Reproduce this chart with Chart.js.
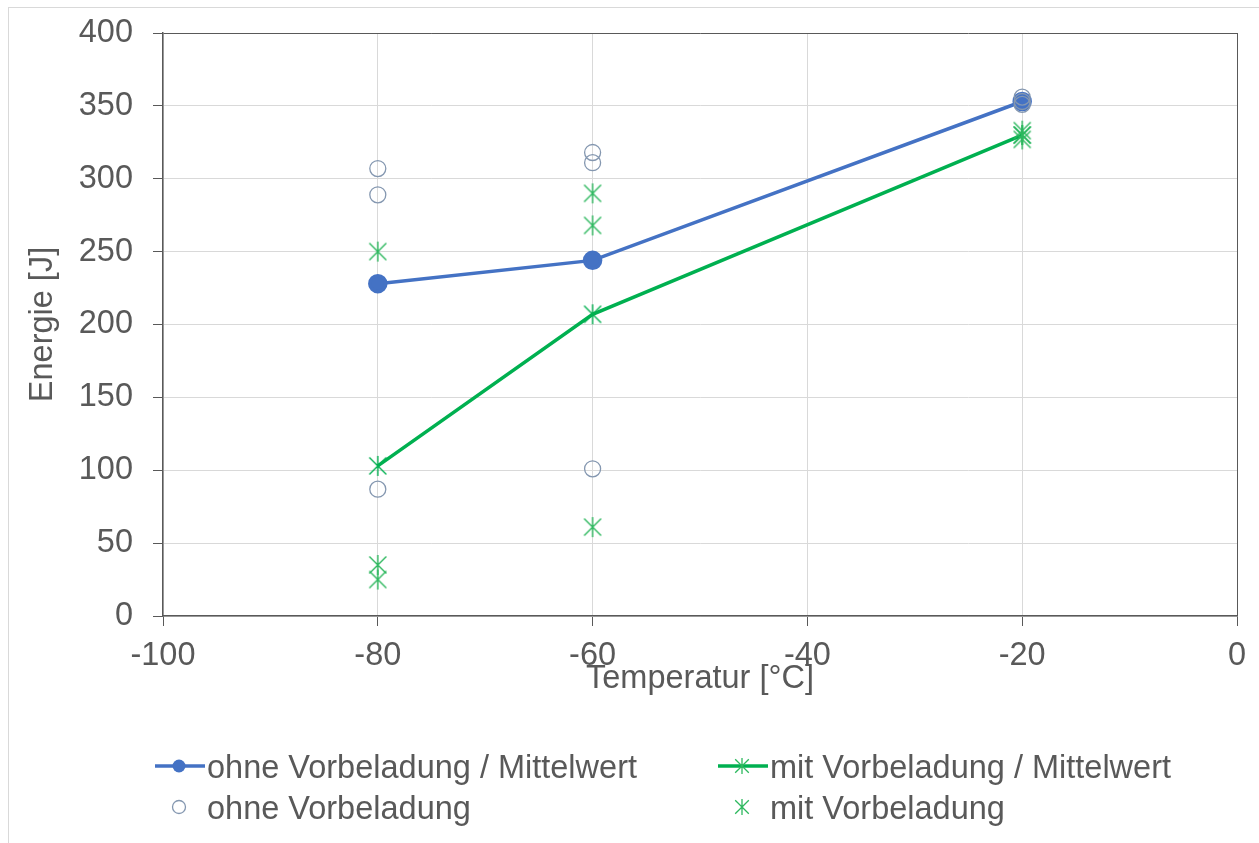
<!DOCTYPE html>
<html>
<head>
<meta charset="utf-8">
<script src="https://cdn.jsdelivr.net/npm/chart.js@4.4.0/dist/chart.umd.min.js"></script>
<style>
  body { margin: 0; background: #fff; overflow: hidden; }
  #wrap { position: relative; width: 1259px; height: 843px; overflow: hidden; }
  #frame { position: absolute; left: 8px; top: 7px; width: 1300px; height: 900px; border: 1px solid #d9d9d9; }
  canvas { position: absolute; left: 0; top: 0; }
</style>
</head>
<body>
<div id="wrap">
  <div id="frame"></div>
  <canvas id="myChart" width="1259" height="843"></canvas>
</div>
<script>
// mean values per temperature
const temperatures = [-80, -60, -20];
const meanOhne = [228, 244, 353];
const meanMit = [103, 207, 330];

// single measurements
const ohneTemps = [-80, -80, -80, -60, -60, -60, -20, -20, -20];
const ohneValues = [307, 289, 87, 318, 311, 101, 356, 353, 351];
const mitTemps = [-80, -80, -80, -60, -60, -60, -20, -20, -20];
const mitValues = [250, 35, 25, 290, 268, 61, 333, 330, 327];

// axis ticks
const xTicks = [-100, -80, -60, -40, -20, 0];
const yTicks = [0, 50, 100, 150, 200, 250, 300, 350, 400];

const seriesLabels = [
    'ohne Vorbeladung / Mittelwert',
    'mit Vorbeladung / Mittelwert',
    'ohne Vorbeladung',
    'mit Vorbeladung'
];

const BLUE = '#4472C4';
const GREEN = '#00B050';
const CIRCLE = '#8497B0';
const STAR = '#2DB85E';
const TEXT = '#595959';
const FONT = '"Liberation Sans", Arial, sans-serif';
const FONT_SIZE = 32.5;

// Excel-like star marker: X plus vertical bar
function makeStar(size, color, lw) {
    const c = document.createElement('canvas');
    c.width = size;
    c.height = size;
    const g = c.getContext('2d');
    g.strokeStyle = color;
    g.lineWidth = lw;
    const m = size / 2, r = size / 2 - 1, d = r * 0.85;
    g.beginPath();
    g.moveTo(m, m - r); g.lineTo(m, m + r);
    g.moveTo(m - d, m - d); g.lineTo(m + d, m + d);
    g.moveTo(m - d, m + d); g.lineTo(m + d, m - d);
    g.stroke();
    return c;
}

const starBig = makeStar(22, STAR, 1.4);
const starMean = makeStar(22, GREEN, 1.4);
const starSmall = makeStar(18, STAR, 1.3);

const toPoints = (xs, ys) => xs.map((x, i) => ({ x: x, y: ys[i] }));

// legend drawn below the plot in two columns
const bottomLegend = {
    id: 'bottomLegend',
    afterDraw(chart) {
        const ctx = chart.ctx;
        const items = [
            { x: 155, y: 778, line: BLUE, marker: 'dot' },
            { x: 718, y: 778, line: GREEN, marker: 'star' },
            { x: 155, y: 819, line: null, marker: 'ring' },
            { x: 718, y: 819, line: null, marker: 'star' }
        ];
        ctx.save();
        items.forEach((it, i) => {
            const cy = it.y - 12;
            const cx = it.x + 24;
            if (it.line) {
                ctx.strokeStyle = it.line;
                ctx.lineWidth = 3.5;
                ctx.beginPath();
                ctx.moveTo(it.x, cy);
                ctx.lineTo(it.x + 50, cy);
                ctx.stroke();
            }
            if (it.marker === 'dot') {
                ctx.fillStyle = BLUE;
                ctx.beginPath();
                ctx.arc(cx, cy, 6.5, 0, Math.PI * 2);
                ctx.fill();
            } else if (it.marker === 'ring') {
                ctx.strokeStyle = CIRCLE;
                ctx.lineWidth = 1.3;
                ctx.beginPath();
                ctx.arc(cx, cy, 6.5, 0, Math.PI * 2);
                ctx.stroke();
            } else {
                ctx.drawImage(starSmall, cx - 9, cy - 9);
            }
            ctx.fillStyle = TEXT;
            ctx.font = FONT_SIZE + 'px ' + FONT;
            ctx.textBaseline = 'alphabetic';
            ctx.textAlign = 'left';
            ctx.fillText(seriesLabels[i], it.x + 52, it.y);
        });
        ctx.restore();
    }
};

Chart.defaults.font.family = FONT;
Chart.defaults.font.size = FONT_SIZE;
Chart.defaults.color = TEXT;

const ctx = document.getElementById('myChart').getContext('2d');
const myChart = new Chart(ctx, {
    type: 'scatter',
    data: {
        datasets: [{
            label: seriesLabels[2],
            data: toPoints(ohneTemps, ohneValues),
            pointStyle: 'circle',
            pointRadius: 8,
            pointBackgroundColor: 'rgba(0,0,0,0)',
            pointBorderColor: CIRCLE,
            pointBorderWidth: 1.3,
            showLine: false
        }, {
            label: seriesLabels[3],
            data: toPoints(mitTemps, mitValues),
            pointStyle: starBig,
            showLine: false
        }, {
            label: seriesLabels[0],
            data: toPoints(temperatures, meanOhne),
            showLine: true,
            borderColor: BLUE,
            borderWidth: 3.5,
            pointStyle: 'circle',
            pointRadius: 8,
            pointBackgroundColor: BLUE,
            pointBorderColor: BLUE
        }, {
            label: seriesLabels[1],
            data: toPoints(temperatures, meanMit),
            showLine: true,
            borderColor: GREEN,
            borderWidth: 3.5,
            pointStyle: starMean
        }]
    },
    options: {
        responsive: false,
        animation: false,
        layout: {
            padding: { left: 0, top: 33, right: 22, bottom: 144 }
        },
        plugins: {
            legend: { display: false },
            tooltip: { enabled: false }
        },
        scales: {
            x: {
                type: 'linear',
                min: -100,
                max: 0,
                afterBuildTicks: scale => { scale.ticks = xTicks.map(v => ({ value: v })); },
                afterFit: scale => {
                    scale.height = 83;
                    scale.paddingLeft = 0;
                    scale.paddingRight = 0;
                },
                ticks: { padding: 11, maxRotation: 0, color: TEXT },
                grid: {
                    color: c => (c.tick && c.tick.value === 0) ? TEXT : '#D9D9D9',
                    lineWidth: 1,
                    tickLength: 10,
                    tickColor: TEXT
                },
                border: { color: TEXT, width: 1.5 },
                title: {
                    display: true,
                    text: 'Temperatur [°C]',
                    color: TEXT,
                    padding: { top: 0, bottom: 0 }
                }
            },
            y: {
                type: 'linear',
                min: 0,
                max: 400,
                afterBuildTicks: scale => { scale.ticks = yTicks.map(v => ({ value: v })); },
                afterFit: scale => {
                    scale.width = 163;
                    scale.paddingTop = 0;
                    scale.paddingBottom = 0;
                },
                ticks: { padding: 20, color: TEXT },
                grid: {
                    color: c => (c.tick && c.tick.value === 400) ? TEXT : '#D9D9D9',
                    lineWidth: 1,
                    tickLength: 10,
                    tickColor: TEXT
                },
                border: { color: TEXT, width: 1.5 },
                title: {
                    display: true,
                    text: 'Energie [J]',
                    color: TEXT,
                    padding: { top: 24, bottom: 0 }
                }
            }
        }
    },
    plugins: [bottomLegend]
});
</script>
</body>
</html>
